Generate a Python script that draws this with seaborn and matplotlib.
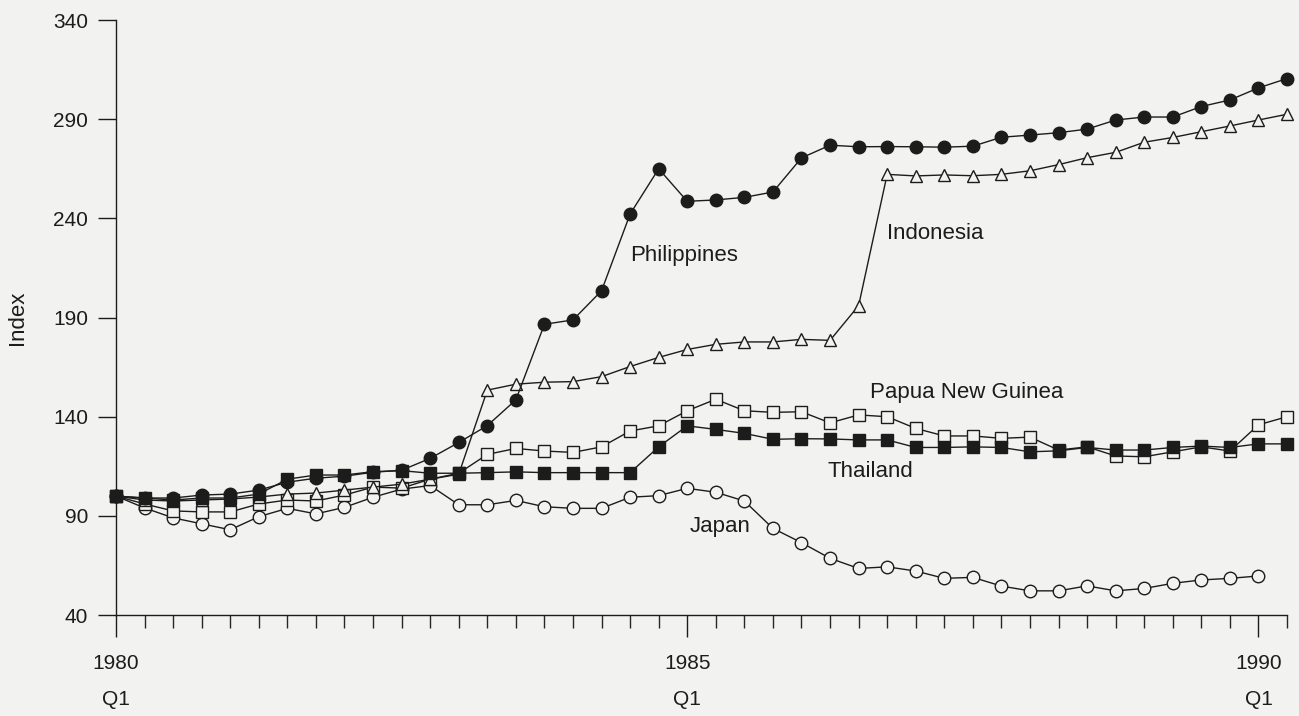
import numpy as np
import pandas as pd
import seaborn as sns
import matplotlib.pyplot as plt
from matplotlib.ticker import MultipleLocator

# quarterly index, 1980 Q1 = 100
quarters = list(range(42))  # 1980Q1 .. 1990Q2

philippines = [100, 99, 99, 100.5, 101, 103, 107, 109, 110, 112, 113, 119, 127, 135.5,
               148.5, 186.6, 188.8, 203.5, 242.2, 265.0, 248.6, 249.3, 250.6, 253.3,
               270.5, 276.9, 276.1, 276.2, 276.1, 275.9, 276.4, 280.9, 282.0, 283.2,
               285.0, 289.6, 291.1, 291.1, 296.4, 299.7, 305.8, 310.5]
indonesia = [100, 98, 97.5, 98, 98.5, 99.5, 101, 101.5, 103, 104.5, 106, 108.5, 111,
             153.4, 156.4, 157.4, 157.7, 160.2, 165.3, 169.9, 173.9, 176.5, 177.7, 177.7,
             179.0, 178.5, 196.0, 262.2, 261.4, 261.9, 261.5, 262.2, 264.0, 267.1,
             270.6, 273.3, 278.4, 280.8, 283.7, 286.6, 289.6, 292.5]
png = [100, 96, 92.5, 92, 92, 96, 98, 97.5, 100.5, 104.5, 104, 108.5, 111.5, 121.0,
       124.0, 122.7, 122.0, 124.8, 132.8, 135.4, 143.0, 148.8, 143.0, 142.2, 142.5,
       136.9, 140.9, 140.0, 134.1, 130.3, 130.3, 129.1, 129.7, 123.2, 124.8, 120.2,
       119.8, 122.3, 124.8, 122.7, 135.9, 140.0]
thailand = [100, 99, 98, 99, 99, 101, 108.5, 110.6, 110.6, 112.3, 112.8, 111.5, 111.5,
            111.8, 112.2, 111.8, 111.8, 111.8, 111.8, 124.8, 135.4, 133.6, 131.6, 128.6,
            128.9, 128.8, 128.3, 128.3, 124.5, 124.5, 124.8, 124.5, 122.3, 122.8, 124.5,
            123.2, 123.2, 124.5, 125.2, 124.5, 126.3, 126.3]
japan = [100, 94, 89, 86, 83, 89.6, 93.8, 91, 94.3, 99.4, 103.5, 105.3, 95.6, 95.6,
         97.8, 94.6, 93.8, 93.8, 99.4, 100.2, 103.9, 101.9, 97.5, 83.7, 76.5, 68.6,
         63.5, 64.3, 62.2, 58.5, 59.0, 54.6, 52.2, 52.2, 54.7, 52.2, 53.4, 56.0, 57.7,
         58.5, 59.7]

tick_pos = [0, 20, 40]
tick_labels = ["1980\nQ1", "1985\nQ1", "1990\nQ1"]

BG = "#f2f2f0"
INK = "#1c1c1c"

sns.set_style("ticks")
plt.rcParams["font.family"] = ["Liberation Sans Narrow", "Liberation Sans", "DejaVu Sans"]
plt.rcParams["font.size"] = 15

fig = plt.figure(figsize=(12.99, 7.16), dpi=100, facecolor=BG)
ax = fig.add_axes([0.0893, 0.141, 0.9015, 0.831])
ax.set_facecolor(BG)

series = [
    ("Japan", japan, "o", BG),
    ("Papua New Guinea", png, "s", BG),
    ("Indonesia", indonesia, "^", BG),
    ("Thailand", thailand, "s", INK),
    ("Philippines", philippines, "o", INK),
]
for name, vals, mk, fc in series:
    df = pd.DataFrame({"quarter": quarters[:len(vals)], "index": vals})
    sns.lineplot(data=df, x="quarter", y="index", ax=ax, color=INK, lw=1.0,
                 marker=mk, markersize=9, markerfacecolor=fc,
                 markeredgecolor=INK, markeredgewidth=1.0, clip_on=False)

labels = [
    ("Philippines", 18.0, 221.5),
    ("Indonesia", 27.0, 232.6),
    ("Papua New Guinea", 26.4, 152.0),
    ("Thailand", 24.9, 112.6),
    ("Japan", 20.1, 84.8),
]
for txt, xq, yv in labels:
    ax.text(xq, yv, txt, ha="left", va="center", fontsize=16, color=INK)

ax.set_xlim(0, 41)
ax.set_ylim(40, 340)
ax.set_yticks(np.arange(40, 341, 50))
ax.set_xticks(tick_pos)
ax.set_xticklabels(tick_labels, linespacing=2.15)
ax.xaxis.set_minor_locator(MultipleLocator(1))
ax.tick_params(axis="y", direction="out", length=13, width=1.0, pad=7, colors=INK)
ax.tick_params(axis="x", which="major", direction="out", length=16, width=1.0, pad=12,
               colors=INK)
ax.tick_params(axis="x", which="minor", direction="out", length=9.5, width=1.0)
ax.set_xlabel("")
ax.set_ylabel("Index", fontsize=16, labelpad=18, color=INK)
sns.despine(ax=ax)
for s in ("left", "bottom"):
    ax.spines[s].set_color(INK)
    ax.spines[s].set_linewidth(1.0)

fig.savefig("out.png", dpi=100, facecolor=BG)
